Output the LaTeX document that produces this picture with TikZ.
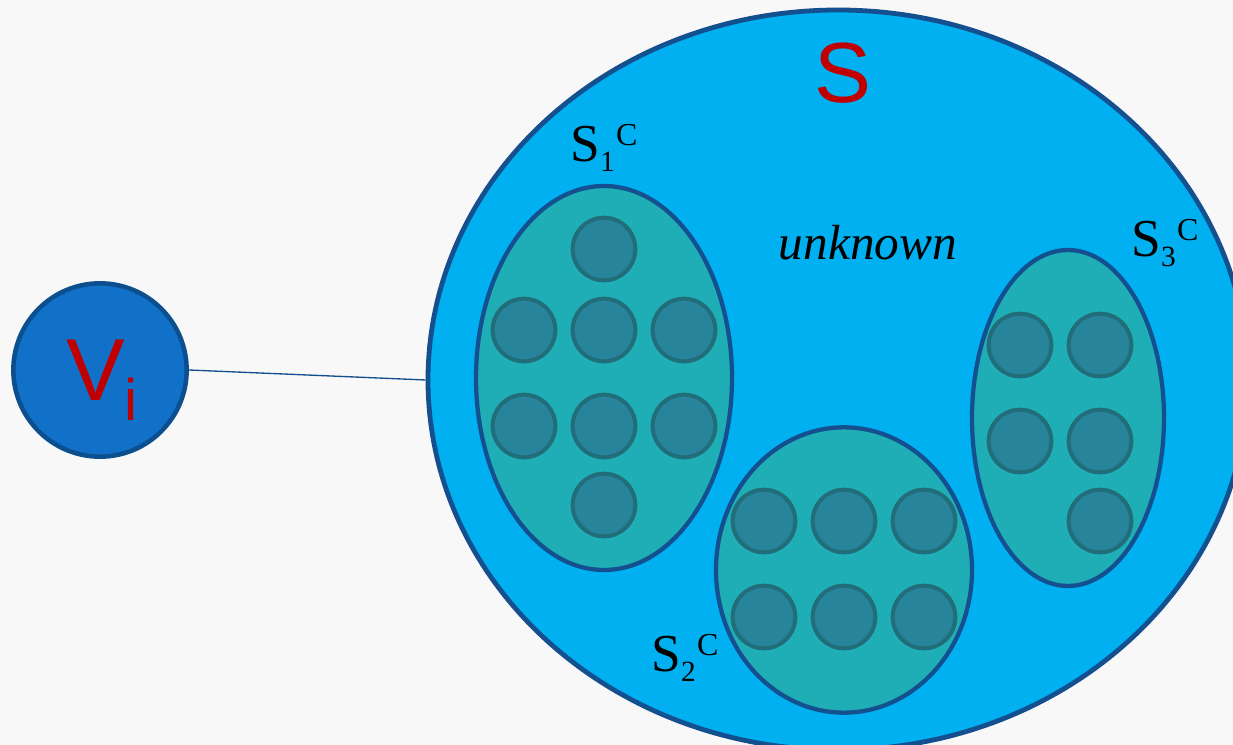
\documentclass[tikz,border=0pt]{standalone}
\usepackage{fontspec}
\setmainfont{Liberation Serif}
\newfontfamily\arialf{Liberation Sans}
\usetikzlibrary{shapes.geometric}
\definecolor{bg}{HTML}{F8F8F8}
\definecolor{bigfill}{HTML}{00B0F0}
\definecolor{edge}{HTML}{14508F}
\definecolor{setfill}{HTML}{1FADB6}
\definecolor{dotfill}{HTML}{28849A}
\definecolor{dotedge}{HTML}{216E7A}
\definecolor{vifill}{HTML}{1170C8}
\definecolor{vedge}{HTML}{0C4F8E}
\definecolor{redtxt}{HTML}{C00000}
\tikzset{
  bigset/.style={ellipse, draw=edge, line width=3.6pt, fill=bigfill, inner sep=0pt},
  subset/.style={ellipse, draw=edge, line width=3.2pt, fill=setfill, inner sep=0pt},
  dot/.style={circle, draw=dotedge, line width=3pt, fill=dotfill, minimum size=47pt, inner sep=0pt},
  vnode/.style={circle, draw=vedge, line width=3.4pt, fill=vifill, minimum size=130pt, inner sep=0pt},
  lab/.style={inner sep=0pt, text=black},
}
\newcommand{\setlab}[1]{{\fontsize{40}{40}\selectfont S}\raisebox{-8pt}{\fontsize{22}{22}\selectfont #1}\hspace{1pt}\raisebox{12pt}{\fontsize{24}{24}\selectfont C}}
\begin{document}
\begin{tikzpicture}[x=0.75pt,y=-0.75pt]
\useasboundingbox (0,0) rectangle (1233,745);
\fill[bg] (0,0) rectangle (1233,745);
\clip (0,0) rectangle (1233,745);
% big set
\node[bigset, minimum width=615pt, minimum height=555pt] (S) at (838,380) {};
\node[inner sep=0pt, text=redtxt, font=\arialf\fontsize{64}{64}\selectfont] (Slab) at (843,73) {S};
% Vi
\node[vnode] (vi) at (100,370) {};
\node[inner sep=0pt, text=redtxt] (vilab) at (102,380) {\arialf{\fontsize{66}{66}\selectfont V}\raisebox{-15pt}{\fontsize{44}{44}\selectfont i}};
\draw[edge, line width=1pt] (vi.east) -- (S.west);
% S1
\node[subset, minimum width=192pt, minimum height=288pt] (s1) at (604,378) {};
\foreach \n/\x/\y in {a/604/249, b/524/330, c/604/330, d/684/330, e/524/426, f/604/426, g/684/426, h/604/505}
  \node[dot] (s1\n) at (\x,\y) {};
% S2
\node[subset, minimum width=192pt, minimum height=214pt] (s2) at (844,570) {};
\foreach \n/\x/\y in {a/764/521, b/844/521, c/924/521, d/764/617, e/844/617, f/924/617}
  \node[dot] (s2\n) at (\x,\y) {};
% S3
\node[subset, minimum width=144pt, minimum height=252pt] (s3) at (1068,418) {};
\foreach \n/\x/\y in {a/1020/345, b/1100/345, c/1020/441, d/1100/441, e/1100/521}
  \node[dot] (s3\n) at (\x,\y) {};
% labels
\node[lab] (l1) at (604,148) {\setlab{1}};
\node[lab] (l2) at (685,658) {\setlab{2}};
\node[lab] (l3) at (1165,243) {\setlab{3}};
\node[lab, font=\itshape\fontsize{37}{37}\selectfont] (unk) at (868,243) {unknown};
\end{tikzpicture}
\end{document}
